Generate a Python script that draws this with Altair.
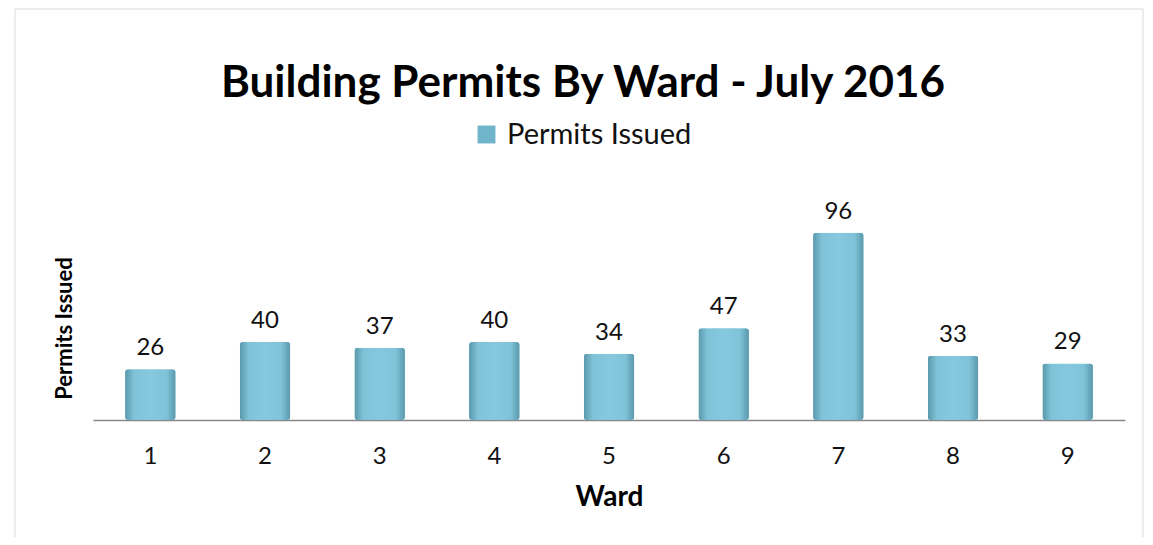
import altair as alt
import pandas as pd

wards = ["1", "2", "3", "4", "5", "6", "7", "8", "9"]
permits = [26, 40, 37, 40, 34, 47, 96, 33, 29]
series_name = "Permits Issued"

df = pd.DataFrame({"Ward": wards, "Permits": permits, "series": [series_name] * len(wards)})

FONT = "Lato"

x_enc = alt.X(
    "Ward:N",
    sort=wards,
    scale=alt.Scale(paddingInner=0.56, paddingOuter=0.28),
    axis=alt.Axis(
        title="Ward", labelAngle=0, tickSize=0, labelPadding=24,
        labelFontSize=24, labelFont=FONT, labelColor="#111",
        titleFontSize=28, titleFont=FONT, titleFontWeight="bold", titleColor="#000",
        titlePadding=15, domainColor="#888", domainWidth=1.5,
    ),
)
y_enc = alt.Y(
    "Permits:Q",
    scale=alt.Scale(domain=[0, 120]),
    axis=alt.Axis(
        title="Permits Issued", labels=False, ticks=False, domain=False, grid=False,
        titleFontSize=22, titleFont=FONT, titleFontWeight="bold", titleColor="#000",
        titleX=-29, titleY=142, titleBaseline="middle",
    ),
)

base = alt.Chart(df)

legend_bars = base.mark_bar(cornerRadius=3).encode(
    x=x_enc, y=y_enc,
    color=alt.Color(
        "series:N",
        scale=alt.Scale(range=["#6fb4c9"]),
        legend=alt.Legend(
            title=None, orient="none", legendX=379, legendY=-66,
            symbolType="square", symbolSize=320, symbolStrokeWidth=0,
            labelFontSize=29, labelFont=FONT, labelColor="#111", labelOffset=6,
            labelLimit=500,
        ),
    ),
)

grad = alt.Gradient(
    gradient="linear",
    stops=[
        alt.GradientStop(color="#5b98ab", offset=0),
        alt.GradientStop(color="#7fc3d8", offset=0.18),
        alt.GradientStop(color="#86c9de", offset=0.5),
        alt.GradientStop(color="#7fc3d8", offset=0.82),
        alt.GradientStop(color="#5b98ab", offset=1),
    ],
    x1=0, x2=1, y1=0, y2=0,
)
grad_bars = base.mark_bar(cornerRadius=3, color=grad).encode(x=x_enc, y=y_enc)

labels = base.mark_text(
    baseline="alphabetic", dy=-14, fontSize=24, font=FONT, color="#111"
).encode(x=x_enc, y=y_enc, text="Permits:Q")

frame = alt.Chart(pd.DataFrame({"v": [0]})).mark_rect(
    fill=None, stroke="#d9d9d9", strokeWidth=1
).encode(
    x=alt.value(-78), x2=alt.value(1050), y=alt.value(-177), y2=alt.value(360)
)

chart = alt.layer(frame, legend_bars, grad_bars, labels).properties(
    width=1032,
    height=234,
    background="white",
    autosize=alt.AutoSizeParams(type="none"),
    padding={"left": 85, "top": 178, "right": 20, "bottom": 117},
    title=alt.TitleParams(
        "Building Permits By Ward - July 2016",
        fontSize=44, font=FONT, fontWeight="bold", color="#000",
        anchor="middle", dx=-26, offset=-97,
    ),
).configure_view(stroke="transparent")

chart.save("out.html", embed_options={"renderer": "svg", "actions": False})
